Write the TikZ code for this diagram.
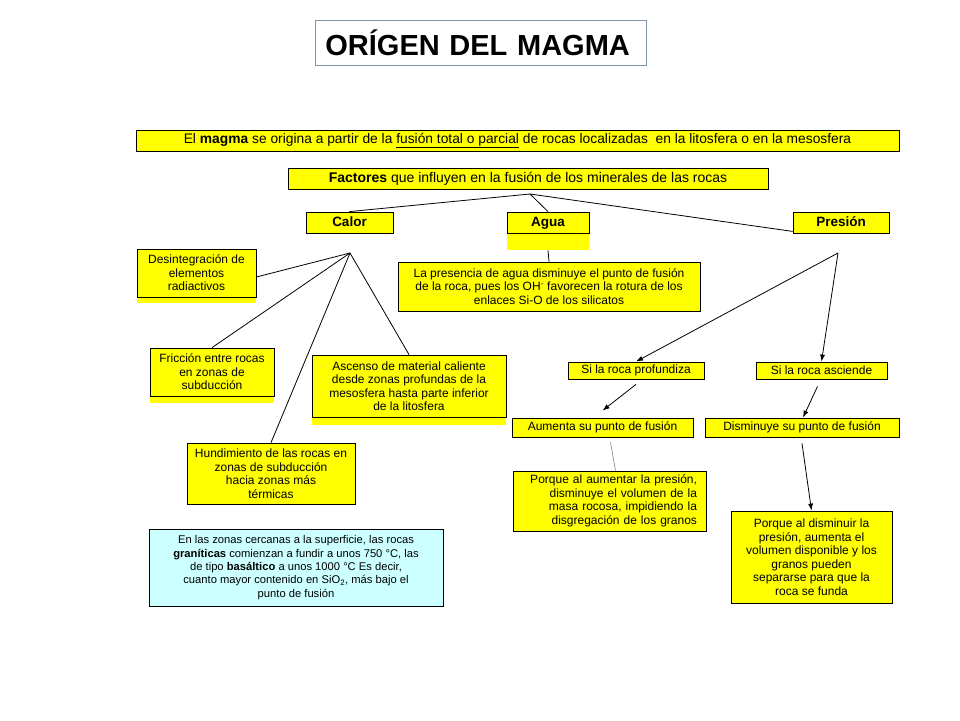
\documentclass[tikz,border=0pt]{standalone}
\usepackage{fontspec}
\setmainfont{Liberation Sans}
\usepackage{tikz}
\usepackage{xcolor}
\usetikzlibrary{arrows.meta,backgrounds}
\definecolor{boxyellow}{HTML}{FFFF00}
\definecolor{notecyan}{HTML}{CCFFFF}
\definecolor{titleframe}{HTML}{7F93AD}

\begin{document}
\begin{tikzpicture}[x=1pt, y=-1pt,
  every node/.style={font=\fontsize{12}{13.5}\selectfont, inner sep=0pt},
  box/.style={draw=black, fill=boxyellow, align=center, line width=0.8pt},
  headbox/.style={box, minimum height=21pt, text height=10pt, text depth=3pt, font=\fontsize{13.5}{15}\selectfont\bfseries},
  notebox/.style={draw=black, fill=notecyan, align=center, line width=0.8pt},
  link/.style={draw=black, line width=0.8pt},
  arrowlink/.style={draw=black, line width=0.8pt, -{Latex[length=7pt,width=5pt]}}]
\useasboundingbox (0,0) rectangle (960,720);
% Title
\node[draw=titleframe, line width=0.8pt, anchor=west, minimum width=331pt, minimum height=45pt,
  text width=311pt, inner xsep=10pt, align=left, font=\fontsize{29}{32}\selectfont\bfseries] (title) at (315,42.5) {ORÍGEN DEL MAGMA};
% Definition and factors
\node[box, minimum width=763pt, minimum height=21pt, font=\fontsize{13.8}{15}\selectfont] (intro) at (517.5,140.5) {El \textbf{magma} se origina a partir de la \underline{fusión total o parcial} de rocas localizadas\ \ en la litosfera o en la mesosfera};
\node[box, minimum width=480pt, minimum height=21pt, font=\fontsize{14}{15}\selectfont] (factores) at (528,178.5) {\textbf{Factores} que influyen en la fusión de los minerales de las rocas};
\node[headbox, minimum width=87pt] (calor) at (349.5,222.5) {Calor};
\node[headbox, minimum width=82pt] (agua) at (548,222.5) {Agua};
\node[headbox, minimum width=96pt] (presion) at (841,222.5) {Presión};
\coordinate (fj) at (530,194);
\draw[link] (fj) -- (calor.north);
\draw[link] (fj) -- (agua.north);
\draw[link] (fj) -- ([yshift=2pt]presion.south west);
% Calor
\node[box, minimum width=119pt, minimum height=48pt] (desint) at (196.5,273) {Desintegración de\\elementos\\radiactivos};
\node[box, minimum width=124pt, minimum height=48pt] (friccion) at (212,372) {Fricción entre rocas\\en zonas de\\subducción};
\node[box, minimum width=194pt, minimum height=62pt] (ascenso) at (409,386) {Ascenso de material caliente\\desde zonas profundas de la\\mesosfera hasta parte inferior\\de la litosfera};
\node[box, minimum width=168pt, minimum height=61pt] (hundim) at (271,473.5) {Hundimiento de las rocas en\\zonas de subducción\\hacia zonas más\\térmicas};
\node[notebox, minimum width=294pt, minimum height=77pt, font=\fontsize{11.2}{13.3}\selectfont] (nota) at (296,567.5) {En las zonas cercanas a la superficie, las rocas\\\textbf{graníticas} comienzan a fundir a unos 750 °C, las\\de tipo \textbf{basáltico} a unos 1000 °C Es decir,\\cuanto mayor contenido en SiO\textsubscript{2}, más bajo el\\punto de fusión};
\coordinate (cj) at (350,253);
\draw[link] (cj) -- ([yshift=-4pt]desint.east);
\draw[link] (cj) -- (friccion.north);
\draw[link] (cj) -- (hundim.north);
\draw[link] (cj) -- (ascenso.north);
% Agua
\node[box, minimum width=302pt, minimum height=49pt] (presencia) at (549,286.5) {La presencia de agua disminuye el punto de fusión\\de la roca, pues los OH\textsuperscript{-} favorecen la rotura de los\\enlaces Si-O de los silicatos};
\draw[link] ([yshift=-17pt]agua.south) -- (presencia.north);
% Presion
\node[box, minimum width=136pt, minimum height=17pt] (profund) at (636,370.5) {Si la roca profundiza};
\node[box, minimum width=131pt, minimum height=17pt] (asciende) at (821.5,370.5) {Si la roca asciende};
\node[box, minimum width=181pt, minimum height=19pt] (aumenta) at (602.5,427.5) {Aumenta su punto de fusión};
\node[box, minimum width=194pt, minimum height=19pt] (disminuye) at (802,427.5) {Disminuye su punto de fusión};
\node[box, minimum width=193pt, minimum height=60pt, align=right, text width=175pt] (porqueA) at (609.5,501) {Porque al aumentar la presión,\\disminuye el volumen de la\\masa rocosa, impidiendo la\\disgregación de los granos};
\node[box, minimum width=161pt, minimum height=92pt] (porqueD) at (811.5,557) {Porque al disminuir la\\presión, aumenta el\\volumen disponible y los\\granos pueden\\separarse para que la\\roca se funda};
\coordinate (pj) at (838,253);
\draw[arrowlink] (pj) -- (profund.north);
\draw[arrowlink] (pj) -- (asciende.north);
\draw[arrowlink] ([yshift=-5pt]profund.south) -- ([yshift=7pt]aumenta.north);
\draw[arrowlink] ([xshift=-4pt,yshift=-7pt]asciende.south) -- ([xshift=1pt]disminuye.north);
\draw[draw=gray, line width=0.6pt] ([xshift=8pt,yshift=-5pt]aumenta.south) -- ([xshift=6pt]porqueA.north);
\draw[arrowlink] ([yshift=-6pt]disminuye.south) -- (porqueD.north);
% Yellow strips under some boxes
\begin{scope}[on background layer]
\fill[boxyellow] (agua.south west) rectangle ([yshift=-17pt]agua.south east);
\fill[boxyellow] (desint.south west) rectangle ([yshift=-6pt]desint.south east);
\fill[boxyellow] (friccion.south west) rectangle ([yshift=-7pt]friccion.south east);
\fill[boxyellow] (ascenso.south west) rectangle ([yshift=-8pt]ascenso.south east);
\end{scope}
\end{tikzpicture}
\end{document}
